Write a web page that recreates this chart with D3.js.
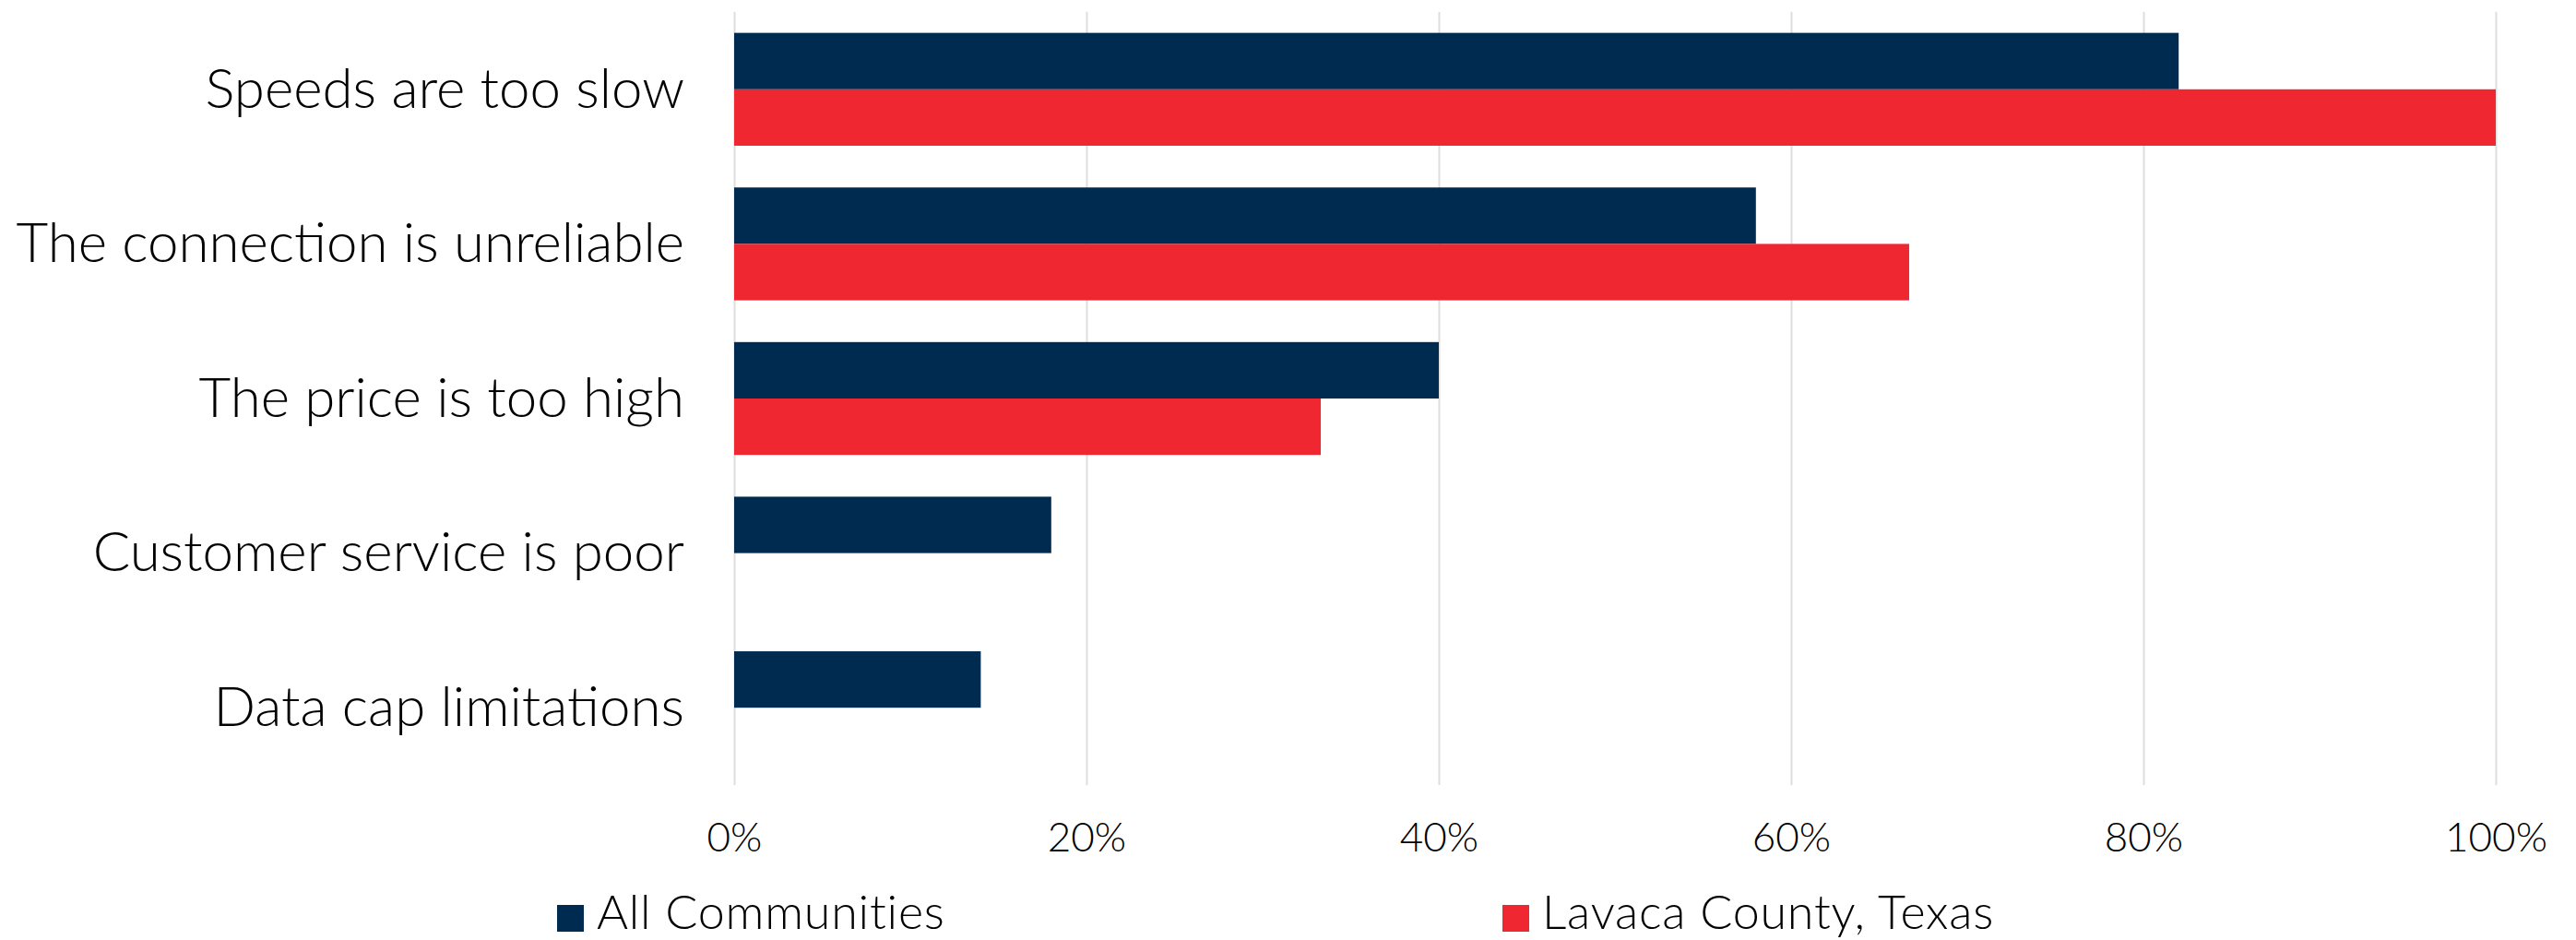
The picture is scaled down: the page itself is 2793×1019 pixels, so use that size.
<!DOCTYPE html>
<html>
<head>
<meta charset="utf-8">
<script src="https://cdn.jsdelivr.net/npm/d3@7"></script>
<style>
  html, body { margin: 0; padding: 0; background: #ffffff; }
  svg { display: block; }
  text { font-family: "Lato", "Noto Sans", sans-serif; font-weight: 300; fill: #000; }
</style>
</head>
<body>
<svg id="chart" width="2793" height="1019"></svg>
<script>
const categories = [
  "Speeds are too slow",
  "The connection is unreliable",
  "The price is too high",
  "Customer service is poor",
  "Data cap limitations"
];
const seriesNames = ["All Communities", "Lavaca County, Texas"];
const allCommunities = [82, 58, 40, 18, 14];
const lavacaCounty = [100, 66.7, 33.3, 0, 0];
const tickValues = [0, 20, 40, 60, 80, 100];
const seriesColors = ["#002B50", "#EE2730"];

(function () {
const svg = d3.select("#chart");
const plotLeft = 796, plotRight = 2706, plotTop = 13, plotBottom = 851;

const x = d3.scaleLinear().domain([0, 100]).range([plotLeft, plotRight]);
const y = d3.scaleBand().domain(categories).range([plotTop, plotBottom])
  .paddingInner(0.27).paddingOuter(0.135);
const ySub = d3.scaleBand().domain(seriesNames).range([0, y.bandwidth()]).padding(0);
const color = d3.scaleOrdinal().domain(seriesNames).range(seriesColors);

// gridlines + x tick labels
const xAxis = d3.axisBottom(x).tickValues(tickValues)
  .tickFormat(d => d + "%")
  .tickSizeInner(-(plotBottom - plotTop)).tickSizeOuter(0).tickPadding(0);
const gx = svg.append("g").attr("transform", `translate(0,${plotBottom})`).call(xAxis);
gx.select(".domain").remove();
gx.selectAll(".tick line").attr("stroke", "#dedede").attr("stroke-width", 2);
gx.selectAll(".tick text")
  .attr("y", 72).attr("dy", null)
  .style("font-size", "44px").style("font-family", '"Lato", "Noto Sans", sans-serif')
  .style("font-weight", 300).attr("fill", "#000");

// bars
const rows = categories.map((c, i) => ({
  cat: c,
  vals: [
    { s: seriesNames[0], v: allCommunities[i] },
    { s: seriesNames[1], v: lavacaCounty[i] }
  ]
}));
const g = svg.append("g");
const grp = g.selectAll("g.cat").data(rows).join("g")
  .attr("class", "cat")
  .attr("transform", d => `translate(0,${y(d.cat)})`);
grp.selectAll("rect").data(d => d.vals).join("rect")
  .attr("x", x(0))
  .attr("y", d => ySub(d.s))
  .attr("width", d => x(d.v) - x(0))
  .attr("height", ySub.bandwidth())
  .attr("fill", d => color(d.s));

// category labels
const yAxis = d3.axisLeft(y).tickSize(0).tickPadding(54);
const gy = svg.append("g").attr("transform", `translate(${plotLeft},0)`).call(yAxis);
gy.select(".domain").remove();
gy.selectAll(".tick text")
  .style("font-size", "60px").style("font-family", '"Lato", "Noto Sans", sans-serif')
  .style("font-weight", 300).attr("fill", "#000").attr("dy", "0.33em");

// legend
const legendX = d3.scaleOrdinal().domain(seriesNames).range([604, 1629]);
const lg = svg.append("g").selectAll("g").data(seriesNames).join("g")
  .attr("transform", d => `translate(${legendX(d)},981)`);
lg.append("rect").attr("width", 29).attr("height", 29).attr("fill", d => color(d));
lg.append("text").attr("x", 43).attr("y", 26)
  .style("font-size", "52px").style("font-weight", 300)
  .style("letter-spacing", "0.8px")
  .text(d => d);
})();
</script>
</body>
</html>
